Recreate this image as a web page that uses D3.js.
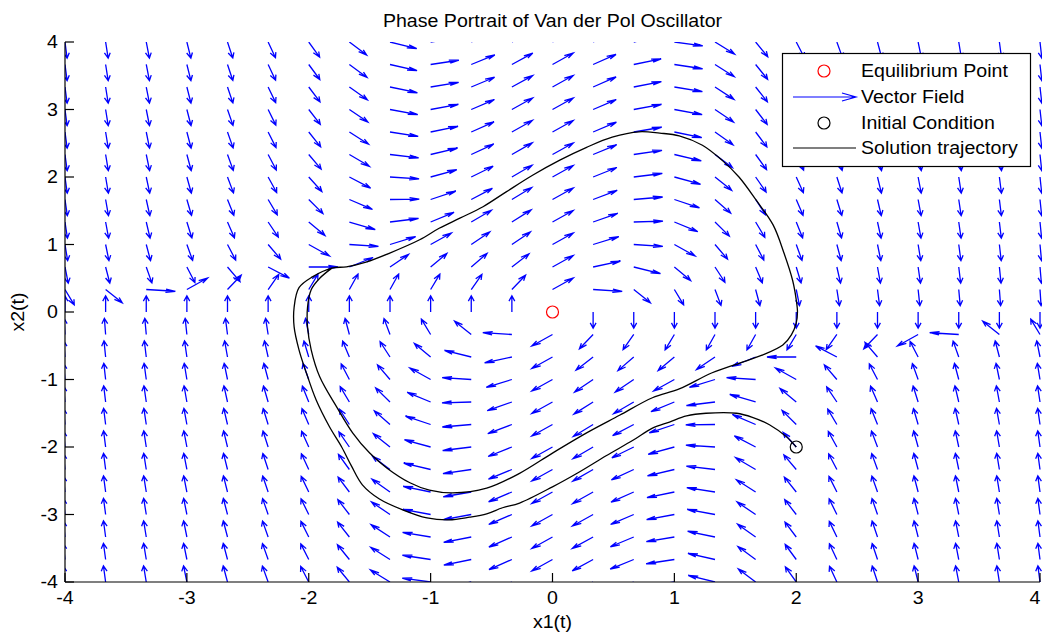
<!DOCTYPE html>
<html>
<head>
<meta charset="utf-8">
<script src="https://cdn.jsdelivr.net/npm/d3@7"></script>
<style>
  html, body { margin: 0; padding: 0; background: #fff; }
  svg { display: block; }
  text { font-family: "Liberation Sans", Arial, Helvetica, sans-serif; fill: #000; }
</style>
</head>
<body>
<svg id="chart" width="1042" height="637"></svg>
<script>
// ---------------- data ----------------
const title = "Phase Portrait of Van der Pol Oscillator";
const xLabel = "x1(t)";
const yLabel = "x2(t)";
const xTicks = [-4, -3, -2, -1, 0, 1, 2, 3, 4];
const yTicks = [-4, -3, -2, -1, 0, 1, 2, 3, 4];

// quiver grid (spacing 1/3 on both axes)
const gridX1 = [-4, -3.6667, -3.3333, -3, -2.6667, -2.3333, -2, -1.6667, -1.3333, -1, -0.6667, -0.3333, 0,
                0.3333, 0.6667, 1, 1.3333, 1.6667, 2, 2.3333, 2.6667, 3, 3.3333, 3.6667, 4];
const gridX2 = [-4, -3.6667, -3.3333, -3, -2.6667, -2.3333, -2, -1.6667, -1.3333, -1, -0.6667, -0.3333, 0,
                0.3333, 0.6667, 1, 1.3333, 1.6667, 2, 2.3333, 2.6667, 3, 3.3333, 3.6667, 4];
// Van der Pol damping parameter of the plotted system: x1' = x2, x2' = mu(1-x1^2)x2 - x1
const mu = 1;

// equilibrium and initial condition
const equilibrium = [0, 0];
const initialCondition = [2, -2];

// solution trajectory (x1, x2)
const trajX1 = [2.00, 1.92, 1.78, 1.64, 1.51, 1.26, 1.10, 0.96, 0.82, 0.66, 0.44, 0.22, 0.00, -0.27, -0.41,
  -0.54, -0.68, -0.85, -1.03, -1.23, -1.42, -1.56, -1.65, -1.73, -1.83, -1.94, -2.02, -2.08, -2.12, -2.12,
  -2.08, -1.97, -1.81,
  -1.69, -1.53, -1.34, -1.09, -0.93, -0.76, -0.57, -0.38, -0.16, 0.06, 0.28, 0.49, 0.71, 0.88, 1.04, 1.23,
  1.39, 1.53, 1.67, 1.81, 1.90, 1.97, 2.00, 2.01, 2.00, 1.96, 1.89, 1.72, 1.53, 1.31, 1.04, 0.82, 0.55,
  0.28, 0.00, -0.27, -0.54, -0.82, -1.01, -1.17, -1.36, -1.50, -1.64, -1.77, -1.91, -1.98, -2.01, -2.01,
  -1.98, -1.91, -1.81];
const trajX2 = [-2.00, -1.85, -1.67, -1.56, -1.50, -1.50, -1.54, -1.63, -1.72, -1.90, -2.13, -2.37, -2.59, -2.83, -2.90,
  -2.99, -3.04, -3.08, -3.05, -2.93, -2.77, -2.56, -2.28, -2.00, -1.70, -1.30, -0.90, -0.56, -0.22, 0.07,
  0.36, 0.52, 0.65,
  0.67, 0.74, 0.87, 1.07, 1.24, 1.39, 1.56, 1.78, 2.03, 2.25, 2.44, 2.59, 2.67, 2.65, 2.61, 2.47,
  2.25, 2.00, 1.66, 1.29, 0.87, 0.47, 0.18, 0.00, -0.16, -0.34, -0.49, -0.64, -0.76, -0.90, -1.14, -1.27, -1.53,
  -1.79, -2.09, -2.39, -2.61, -2.68, -2.64, -2.53, -2.31, -2.09, -1.79, -1.41, -0.96, -0.56, -0.22, 0.07,
  0.33, 0.50, 0.65];

const legendLabels = ["Equilibrium Point", "Vector Field", "Initial Condition", "Solution trajectory"];

// ---------------- layout ----------------
const svg = d3.select("#chart");
const W = 1042, H = 637;
const plot = { left: 65, right: 1040, top: 42, bottom: 582 };
const fontSize = 17.5, stretch = 1.12;
const arrowLen = 0.24;           // data units
const headA = 0.33, headB = 0.3;

const x = d3.scaleLinear().domain([-4, 4]).range([plot.left, plot.right]);
const y = d3.scaleLinear().domain([-4, 4]).range([plot.bottom, plot.top]);

svg.append("rect").attr("width", W).attr("height", H).attr("fill", "#fff");

svg.append("clipPath").attr("id", "clip")
  .append("rect").attr("x", plot.left).attr("y", plot.top)
  .attr("width", plot.right - plot.left + 2).attr("height", plot.bottom - plot.top);

function stretchedText(g, tx, ty, str, anchor, rotate) {
  return g.append("text")
    .attr("transform", `translate(${tx},${ty})` + (rotate ? ` rotate(${rotate})` : "") + ` scale(${stretch},1)`)
    .attr("text-anchor", anchor)
    .style("font-size", fontSize + "px")
    .text(str);
}

// ---------------- vector field ----------------
const arrows = [];
gridX1.forEach(a => gridX2.forEach(b => {
  const u0 = b, v0 = mu * (1 - a * a) * b - a;
  const m = Math.hypot(u0, v0);
  if (m < 1e-9) return;
  const u = u0 / m * arrowLen, v = v0 / m * arrowLen;
  arrows.push({ a, b, u, v });
}));

const field = svg.append("g").attr("clip-path", "url(#clip)")
  .attr("stroke", "#0000ff").attr("stroke-width", 1.3).attr("fill", "none");
field.selectAll("path").data(arrows).join("path")
  .attr("d", d => {
    const tx = d.a + d.u, ty = d.b + d.v;
    const h1x = tx - headA * (d.u + headB * d.v), h1y = ty - headA * (d.v - headB * d.u);
    const h2x = tx - headA * (d.u - headB * d.v), h2y = ty - headA * (d.v + headB * d.u);
    return `M${x(d.a)},${y(d.b)}L${x(tx)},${y(ty)}M${x(h1x)},${y(h1y)}L${x(tx)},${y(ty)}L${x(h2x)},${y(h2y)}`;
  });

// ---------------- trajectory ----------------
const traj = trajX1.map((v, i) => [v, trajX2[i]]);
svg.append("path").datum(traj)
  .attr("clip-path", "url(#clip)")
  .attr("fill", "none").attr("stroke", "#000").attr("stroke-width", 1.3)
  .attr("d", d3.line().x(d => x(d[0])).y(d => y(d[1])).curve(d3.curveCatmullRom.alpha(0.5)));

// equilibrium & initial condition markers
svg.append("circle").attr("cx", x(equilibrium[0])).attr("cy", y(equilibrium[1])).attr("r", 6)
  .attr("fill", "none").attr("stroke", "#ff0000").attr("stroke-width", 1.2);
svg.append("circle").attr("cx", x(initialCondition[0])).attr("cy", y(initialCondition[1])).attr("r", 6)
  .attr("fill", "none").attr("stroke", "#000").attr("stroke-width", 1.2);

// ---------------- axes ----------------
const ax = svg.append("g").attr("stroke", "#000").attr("stroke-width", 1.2);
ax.append("line").attr("x1", plot.left).attr("x2", plot.right).attr("y1", plot.bottom).attr("y2", plot.bottom);
ax.append("line").attr("x1", plot.left).attr("x2", plot.left).attr("y1", plot.top).attr("y2", plot.bottom);
xTicks.forEach(t => ax.append("line").attr("x1", x(t)).attr("x2", x(t)).attr("y1", plot.bottom).attr("y2", plot.bottom - 9));
yTicks.forEach(t => ax.append("line").attr("x1", plot.left).attr("x2", plot.left + 9).attr("y1", y(t)).attr("y2", y(t)));

const labels = svg.append("g");
xTicks.forEach(t => stretchedText(labels, Math.min(x(t), W - 7), 604, d3.format("d")(t).replace("−", "-"), "middle"));
yTicks.forEach(t => stretchedText(labels, 58, y(t) + 6, d3.format("d")(t).replace("−", "-"), "end"));

stretchedText(labels, x(0), 27, title, "middle");
stretchedText(labels, x(0), 628, xLabel, "middle");
stretchedText(labels, 24, y(0), yLabel, "middle", -90);

// ---------------- legend ----------------
const lg = svg.append("g");
lg.append("rect").attr("x", 782.5).attr("y", 53.5).attr("width", 248).attr("height", 113)
  .attr("fill", "#fff").attr("stroke", "#000").attr("stroke-width", 1.2);
const rowY = [71, 97, 123, 148];
legendLabels.forEach((s, i) => stretchedText(lg, 861, rowY[i] + 6, s, "start"));
lg.append("circle").attr("cx", 824).attr("cy", rowY[0]).attr("r", 6)
  .attr("fill", "none").attr("stroke", "#ff0000").attr("stroke-width", 1.2);
lg.append("path").attr("d", `M793,${rowY[1]}L856,${rowY[1]}M842,${rowY[1] - 4}L856,${rowY[1]}L842,${rowY[1] + 4}`)
  .attr("fill", "none").attr("stroke", "#0000ff").attr("stroke-width", 1.2);
lg.append("circle").attr("cx", 824).attr("cy", rowY[2]).attr("r", 6)
  .attr("fill", "none").attr("stroke", "#000").attr("stroke-width", 1.2);
lg.append("line").attr("x1", 793).attr("x2", 856).attr("y1", rowY[3]).attr("y2", rowY[3])
  .attr("stroke", "#000").attr("stroke-width", 1.2);
</script>
</body>
</html>
